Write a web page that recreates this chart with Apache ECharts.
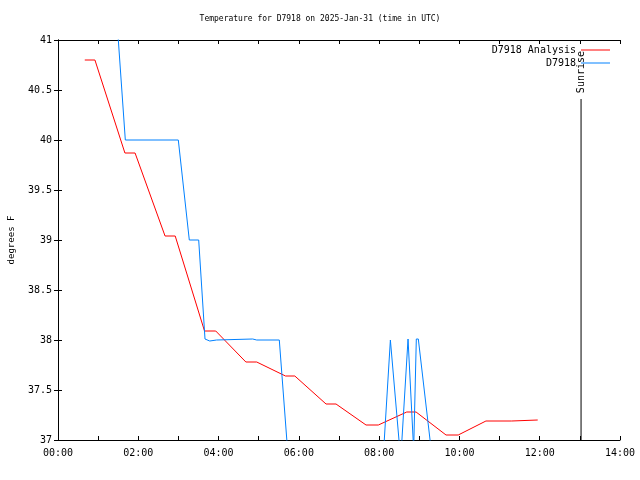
<!DOCTYPE html>
<html>
<head>
<meta charset="utf-8">
<script src="https://cdn.jsdelivr.net/npm/echarts@6/dist/echarts.min.js"></script>
<style>html,body{margin:0;padding:0;background:#fff;}#c{width:640px;height:480px;}</style>
</head>
<body>
<div id="c"></div>
<script>
// Analysis series (time in hours UTC, temperature F)
const analysisTimes = [0.667, 0.92, 1.667, 1.92, 2.667, 2.92, 3.65, 3.93, 4.68, 4.95, 5.667, 5.9, 6.677, 6.926, 7.673, 7.98, 8.687, 8.92, 9.666, 9.97, 10.66, 11.3, 11.95];
const analysisValues = [40.80, 40.80, 39.87, 39.87, 39.04, 39.04, 38.09, 38.09, 37.78, 37.78, 37.64, 37.64, 37.36, 37.36, 37.15, 37.15, 37.28, 37.28, 37.05, 37.05, 37.19, 37.19, 37.20];
// Observed station series
const obsTimes = [1.328, 1.677, 2.997, 3.271, 3.505, 3.662, 3.78, 3.95, 4.85, 4.95, 5.513, 6.0, 7.0, 7.9, 8.28, 8.537, 8.72, 8.762, 8.86, 8.926, 8.976, 9.5];
const obsValues = [42.0, 40.0, 40.0, 39.0, 39.0, 38.01, 37.99, 38.0, 38.01, 38.0, 38.0, 35.4, 35.4, 35.5, 38.0, 36.8, 38.01, 38.01, 36.9, 38.01, 38.01, 36.2];
// Sunrise marker
const sunriseTime = 13.03;
const sunriseTop = 40.41;
const seriesNames = ['D7918 Analysis', 'D7918'];
const titleText = 'Temperature for D7918 on 2025-Jan-31 (time in UTC)';

const FONT = 'DejaVu Sans Mono';
const zip = (a, b) => a.map((t, i) => [t, b[i]]);
const hh = v => (v < 10 ? '0' : '') + v + ':00';

const chart = echarts.init(document.getElementById('c'), null, {renderer: 'canvas'});
const axisLine = {show: true, lineStyle: {color: '#000', width: 1}};
const tick = {show: true, inside: true, length: 4, lineStyle: {color: '#000'}};
const option = {
  animation: false,
  backgroundColor: '#fff',
  title: {text: titleText, left: 'center', top: 15, padding: 0,
    textStyle: {fontFamily: FONT, fontSize: 8, fontWeight: 'normal', color: '#000'}},
  legend: {
    data: seriesNames, orient: 'vertical', right: 25, top: 40, align: 'right',
    icon: 'rect', itemWidth: 29, itemHeight: 1, itemGap: 3,
    textStyle: {fontFamily: FONT, fontSize: 10, color: '#000'}
  },
  grid: {left: 58, right: 20, top: 40, bottom: 40, containLabel: false, outerBoundsMode: 'none'},
  xAxis: [
    {type: 'value', min: 0, max: 14, interval: 1, axisLine, axisTick: tick, splitLine: {show: false},
     axisLabel: {margin: 8, fontFamily: FONT, fontSize: 10, color: '#000',
       formatter: v => (v % 2 === 0 ? hh(v) : '')}},
    {type: 'value', position: 'top', min: 0, max: 14, interval: 1, axisLine, axisTick: tick,
     splitLine: {show: false}, axisLabel: {show: false}}
  ],
  yAxis: [
    {type: 'value', min: 37, max: 41, interval: 0.5, axisLine, axisTick: tick, splitLine: {show: false},
     name: 'degrees F', nameLocation: 'middle', nameRotate: 90, nameGap: 42,
     nameTextStyle: {fontFamily: FONT, fontSize: 9, color: '#000'},
     axisLabel: {margin: 6, fontFamily: FONT, fontSize: 10, color: '#000'}},
    {type: 'value', position: 'right', min: 37, max: 41, interval: 0.5, axisLine, axisTick: tick,
     splitLine: {show: false}, axisLabel: {show: false}}
  ],
  series: [
    {name: seriesNames[0], type: 'line', symbol: 'none', data: zip(analysisTimes, analysisValues),
     lineStyle: {color: '#ff0000', width: 1}, itemStyle: {color: '#ff0000'}, clip: true},
    {name: seriesNames[1], type: 'line', symbol: 'none', data: zip(obsTimes, obsValues),
     lineStyle: {color: '#0080ff', width: 1}, itemStyle: {color: '#0080ff'}, clip: true},
    {name: 'Sunrise', type: 'line', symbol: 'none', data: [[sunriseTime, 37], [sunriseTime, sunriseTop]],
     lineStyle: {color: '#000', width: 1}, clip: true, silent: true}
  ]
};
chart.setOption(option);
const p = chart.convertToPixel({xAxisIndex: 0, yAxisIndex: 0}, [sunriseTime, 41]);
chart.setOption({graphic: [{type: 'text', x: p[0], y: p[1] + 11, rotation: Math.PI / 2,
  style: {text: 'Sunrise', fontFamily: FONT, fontSize: 10, fill: '#000', align: 'right', verticalAlign: 'middle'}}]});
</script>
</body>
</html>
